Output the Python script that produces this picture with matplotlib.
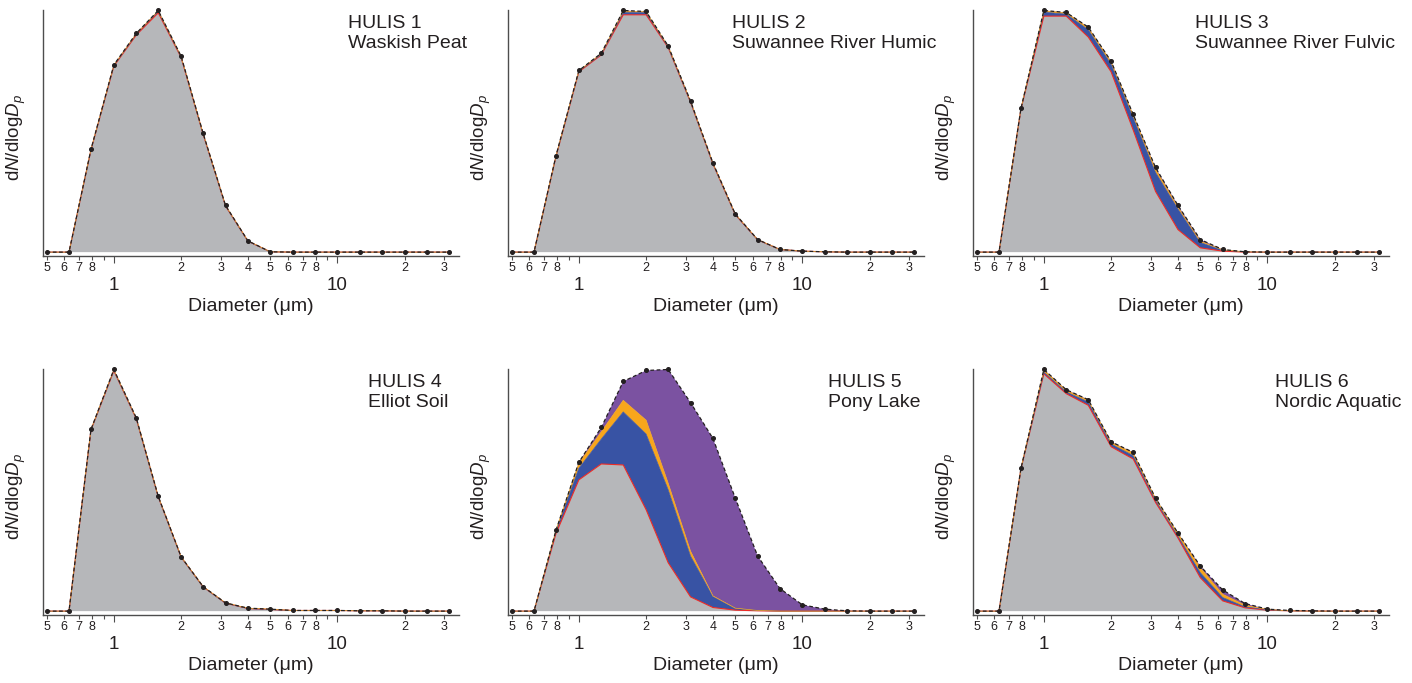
import numpy as np
import matplotlib
matplotlib.use("Agg")
import matplotlib.pyplot as plt
from matplotlib.ticker import FixedLocator, FixedFormatter

plt.rcParams['font.family'] = ['Liberation Sans', 'DejaVu Sans']
plt.rcParams['mathtext.fontset'] = 'custom'
plt.rcParams['mathtext.rm'] = 'Liberation Sans'
plt.rcParams['mathtext.it'] = 'Liberation Sans:italic'

# particle diameter bins (um)
diam = [0.5, 0.63, 0.79, 1.0, 1.26, 1.58, 2.0, 2.51, 3.16, 3.98, 5.01,
        6.31, 7.94, 10.0, 12.6, 15.8, 20.0, 25.1, 31.6]

titles = ["HULIS 1\nWaskish Peat", "HULIS 2\nSuwannee River Humic",
          "HULIS 3\nSuwannee River Fulvic", "HULIS 4\nElliot Soil",
          "HULIS 5\nPony Lake", "HULIS 6\nNordic Aquatic"]

# stacked contributions (relative units), bottom -> top: gray, blue, orange, purple
p1_gray = [0, 0, 308, 561, 655, 722, 587, 355, 139, 33, 1, 0, 0, 0, 0, 0, 0, 0, 0]
p1_blue = [0, 0, 1, 2, 3, 5, 2, 1, 1, 0, 0, 0, 0, 0, 0, 0, 0, 0, 0]
p1_orange = [0, 0, 1, 1, 1, 1, 1, 1, 1, 1, 0, 0, 0, 0, 0, 0, 0, 0, 0]
p1_purple = [0, 0, 0, 1, 1, 1, 1, 1, 0, 0, 0, 0, 0, 0, 0, 0, 0, 0, 0]

p2_gray = [0, 0, 288, 544, 595, 716, 716, 617, 452, 266, 113, 37, 8, 3, 1, 0, 0, 0, 0]
p2_blue = [0, 0, 1, 2, 2, 7, 7, 2, 1, 1, 1, 0, 0, 0, 0, 0, 0, 0, 0]
p2_orange = [0, 0, 1, 1, 2, 4, 2, 2, 2, 1, 1, 1, 0, 0, 0, 0, 0, 0, 0]
p2_purple = [0, 0, 1, 1, 1, 2, 1, 1, 1, 1, 0, 0, 0, 0, 0, 0, 0, 0, 0]

p3_gray = [0, 0, 431, 711, 711, 648, 543, 368, 183, 68, 13, 3, 0, 0, 0, 0, 0, 0, 0]
p3_blue = [0, 0, 1, 12, 6, 22, 23, 37, 57, 62, 16, 3, 1, 0, 0, 0, 0, 0, 0]
p3_orange = [0, 0, 1, 4, 4, 6, 7, 7, 10, 6, 4, 1, 0, 0, 0, 0, 0, 0, 0]
p3_purple = [0, 0, 0, 1, 1, 2, 2, 3, 5, 5, 5, 1, 0, 0, 0, 0, 0, 0, 0]

p4_gray = [0, 0, 547, 726, 581, 345, 163, 73, 24, 8, 5, 2, 2, 2, 1, 1, 0, 0, 0]
p4_blue = [0, 0, 1, 2, 1, 1, 0, 0, 0, 0, 0, 0, 0, 0, 0, 0, 0, 0, 0]
p4_orange = [0, 0, 1, 1, 1, 1, 1, 1, 1, 1, 1, 0, 0, 0, 0, 0, 0, 0, 0]
p4_purple = [0, 0, 0, 1, 1, 0, 0, 0, 0, 0, 0, 0, 0, 0, 0, 0, 0, 0, 0]

p5_gray = [0, 0, 234, 396, 444, 441, 306, 146, 43, 11, 3, 1, 0, 0, 0, 0, 0, 0, 0]
p5_blue = [0, 0, 7, 35, 75, 160, 228, 220, 123, 33, 5, 1, 0, 0, 0, 0, 0, 0, 0]
p5_orange = [0, 0, 3, 15, 22, 35, 42, 20, 15, 2, 1, 0, 0, 0, 0, 0, 0, 0, 0]
p5_purple = [0, 0, 0, 3, 13, 57, 150, 343, 448, 475, 332, 164, 68, 19, 6, 1, 0, 0, 0]

p6_gray = [0, 0, 429, 716, 656, 621, 496, 459, 328, 221, 101, 31, 10, 3, 1, 0, 0, 0, 0]
p6_blue = [0, 0, 1, 5, 5, 10, 8, 10, 6, 5, 15, 10, 3, 1, 0, 0, 0, 0, 0]
p6_orange = [0, 0, 1, 6, 5, 5, 5, 8, 5, 8, 15, 10, 5, 1, 0, 0, 0, 0, 0]
p6_purple = [0, 0, 0, 2, 2, 2, 2, 2, 2, 2, 5, 13, 5, 1, 1, 1, 0, 0, 0]

panels = [
    (p1_gray, p1_blue, p1_orange, p1_purple),
    (p2_gray, p2_blue, p2_orange, p2_purple),
    (p3_gray, p3_blue, p3_orange, p3_purple),
    (p4_gray, p4_blue, p4_orange, p4_purple),
    (p5_gray, p5_blue, p5_orange, p5_purple),
    (p6_gray, p6_blue, p6_orange, p6_purple),
]

text_x = [0.733, 0.539, 0.533, 0.782, 0.769, 0.725]

minor_pos = [0.5, 0.6, 0.7, 0.8, 0.9, 2, 3, 4, 5, 6, 7, 8, 9, 20, 30]
minor_lab = ['5', '6', '7', '8', '', '2', '3', '4', '5', '6', '7', '8', '', '2', '3']

GRAY = '#B6B7BA'
BLUE = '#3853A4'
ORANGE = '#F8A61C'
PURPLE = '#7B52A1'
RED = '#EE2A24'
AXC = '#4d4d4d'
TXT = '#231F20'

W, H = 1412, 683
fig = plt.figure(figsize=(W / 100, H / 100), dpi=100)

lefts = [43, 508, 973]
bottoms = [256, 615]
aw, ah = 416, 246

x = np.array(diam)
for i, layers in enumerate(panels):
    r, c = divmod(i, 3)
    ax = fig.add_axes([lefts[c] / W, 1 - bottoms[r] / H, aw / W, ah / H])
    g, b, o, p = [np.array(l, dtype=float) for l in layers]
    total = g + b + o + p

    ax.stackplot(x, g, b, o, p, colors=[GRAY, BLUE, ORANGE, PURPLE], linewidth=0)
    ax.plot(x, g, color=RED, lw=0.8)
    ax.plot(x, g + b, color=BLUE, lw=0.5)
    ax.plot(x, g + b + o, color=ORANGE, lw=0.5)
    ax.plot(x, total, color=TXT, lw=0.9, ls=(0, (3, 2)), marker='o',
            ms=2.6, clip_on=False, zorder=5)

    ax.set_xscale('log')
    ax.set_xlim(0.482, 35)
    ax.set_ylim(-0.016 * total.max(), total.max() * 1.002)

    ax.xaxis.set_major_locator(FixedLocator([1, 10]))
    ax.xaxis.set_major_formatter(FixedFormatter(['1', '10']))
    ax.xaxis.set_minor_locator(FixedLocator(minor_pos))
    ax.xaxis.set_minor_formatter(FixedFormatter(minor_lab))
    ax.tick_params(axis='x', which='major', labelsize=13.5, length=5, pad=10,
                   width=0.8, color=AXC, labelcolor=TXT)
    ax.tick_params(axis='x', which='minor', labelsize=9, length=3, pad=1.5,
                   width=0.8, color=AXC, labelcolor=TXT)
    ax.set_yticks([])

    for s in ['top', 'right']:
        ax.spines[s].set_visible(False)
    for s in ['left', 'bottom']:
        ax.spines[s].set_color(AXC)
        ax.spines[s].set_linewidth(1.0)

    ax.set_ylabel(r'd$N$/dlog$D_p$', fontsize=13.5, color=TXT)
    ax.yaxis.set_label_coords(-0.035, 0.48)
    ax.set_xlabel('Diameter (\u03bcm)', fontsize=14, color=TXT)
    ax.xaxis.set_label_coords(0.5, -0.17)

    ax.text(text_x[i], 0.978, titles[i], transform=ax.transAxes, ha='left',
            va='top', fontsize=14, linespacing=1.22, color=TXT)

fig.savefig('out.png', dpi=100)
